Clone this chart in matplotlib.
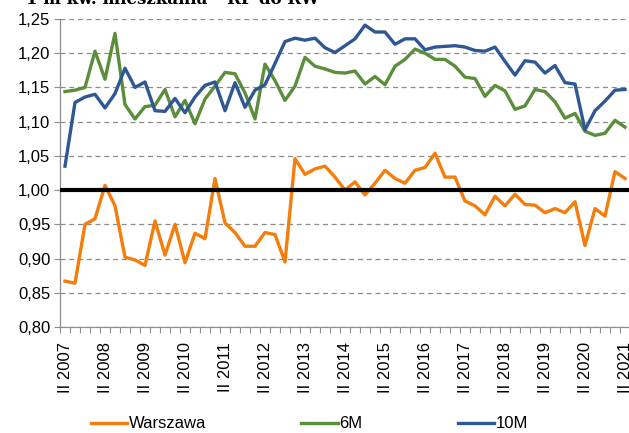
import matplotlib
matplotlib.use("Agg")
import matplotlib.pyplot as plt
from matplotlib.ticker import FuncFormatter, FixedLocator

warszawa = [0.867, 0.864, 0.950, 0.958, 1.007, 0.977, 0.902, 0.898, 0.890, 0.955,
            0.905, 0.950, 0.894, 0.937, 0.929, 1.017, 0.952, 0.938, 0.918, 0.918,
            0.938, 0.935, 0.895, 1.046, 1.023, 1.031, 1.035, 1.019, 1.000, 1.012,
            0.993, 1.010, 1.029, 1.017, 1.010, 1.029, 1.033, 1.054, 1.019, 1.019,
            0.984, 0.977, 0.964, 0.991, 0.977, 0.994, 0.979, 0.978, 0.967, 0.973,
            0.967, 0.983, 0.919, 0.973, 0.962, 1.027, 1.017]
m6 = [1.144, 1.146, 1.150, 1.203, 1.162, 1.229, 1.125, 1.104, 1.122, 1.124,
      1.147, 1.107, 1.131, 1.097, 1.133, 1.152, 1.172, 1.170, 1.142, 1.104,
      1.184, 1.160, 1.131, 1.152, 1.194, 1.181, 1.177, 1.172, 1.171, 1.174,
      1.155, 1.166, 1.154, 1.181, 1.191, 1.206, 1.200, 1.191, 1.191, 1.181,
      1.165, 1.163, 1.137, 1.153, 1.145, 1.118, 1.123, 1.147, 1.144, 1.129,
      1.105, 1.112, 1.086, 1.080, 1.083, 1.102, 1.092]
m10 = [1.035, 1.128, 1.136, 1.140, 1.120, 1.141, 1.178, 1.150, 1.158, 1.116,
       1.115, 1.134, 1.113, 1.136, 1.153, 1.158, 1.116, 1.157, 1.121, 1.146,
       1.154, 1.185, 1.217, 1.222, 1.219, 1.222, 1.208, 1.201, 1.211, 1.221,
       1.241, 1.231, 1.231, 1.213, 1.221, 1.221, 1.205, 1.209, 1.210, 1.211,
       1.209, 1.204, 1.203, 1.209, 1.188, 1.168, 1.189, 1.187, 1.171, 1.182,
       1.157, 1.155, 1.088, 1.116, 1.130, 1.146, 1.147]
years = list(range(2007, 2022))
quarter_labels = ["II %d" % y for y in years]
series_names = ["Warszawa", "6M", "10M"]
colors = ["#F47D0C", "#5B8E3B", "#2E5793"]
reference_level = 1.0

plt.rcParams['font.family'] = ['Liberation Sans', 'DejaVu Sans']

fig = plt.figure(figsize=(6.29, 4.33), dpi=100)
ax = fig.add_axes([60/629, 1 - 327/433, 570/629, (327 - 19)/433])

x = list(range(len(warszawa)))
for vals, name, c in zip([warszawa, m6, m10], series_names, colors):
    ax.plot(x, vals, color=c, lw=2.4, label=name, solid_joinstyle='round', zorder=3)

ax.axhline(reference_level, color='black', lw=3.0, zorder=4)

ax.set_xlim(-0.5, 56.5)
ax.set_ylim(0.80, 1.25)
yt = [0.80 + 0.05 * i for i in range(10)]
ax.set_yticks(yt)
ax.yaxis.set_major_formatter(FuncFormatter(lambda v, p: ("%.2f" % v).replace('.', ',')))
ax.grid(axis='y', color='#8c8c8c', ls=(0, (4, 3)), lw=0.9)
ax.set_axisbelow(True)

ax.set_xticks([4 * i for i in range(len(years))])
ax.set_xticklabels(quarter_labels, rotation=90, fontsize=12)
ax.xaxis.set_minor_locator(FixedLocator([i - 0.5 for i in range(len(warszawa) + 1)]))
ax.tick_params(axis='x', which='major', length=0, pad=11)
ax.tick_params(axis='x', which='minor', length=4, color='#8c8c8c', width=0.8)
ax.tick_params(axis='y', length=4, color='#8c8c8c', width=0.8, labelsize=12, pad=3)

for s in ['top', 'right']:
    ax.spines[s].set_visible(False)
for s in ['left', 'bottom']:
    ax.spines[s].set_color('#8c8c8c')
    ax.spines[s].set_linewidth(0.9)

leg = fig.legend(loc='center', bbox_to_anchor=(0.492, 1 - 424/433), ncol=3, frameon=False,
                 fontsize=12, handlelength=2.2, handletextpad=0.1, columnspacing=5.7)

fig.text(320/629, 1 - 4.5/433, "1 m kw. mieszkania – RP do RW", ha='right', va='baseline',
         fontsize=12, fontweight='bold', family='DejaVu Serif')

fig.savefig("out.png", dpi=100)
